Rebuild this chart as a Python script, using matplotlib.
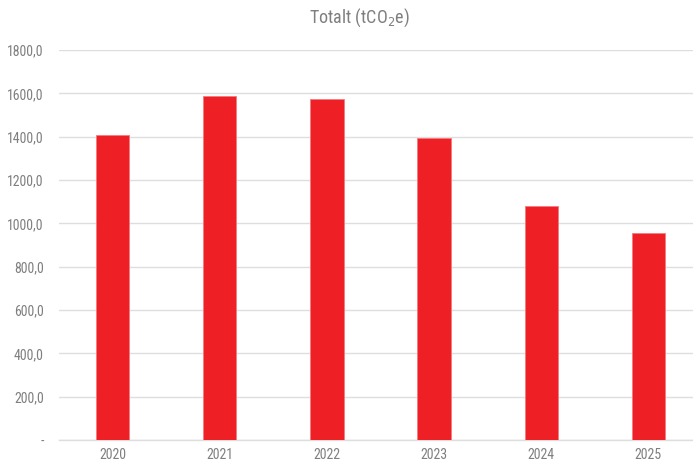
import matplotlib
matplotlib.use("Agg")
import matplotlib.pyplot as plt
from matplotlib import font_manager as fm
from matplotlib.ticker import FuncFormatter

# utslipp per år (tCO2e)
years = ["2020", "2021", "2022", "2023", "2024", "2025"]
totalt = [1406, 1588, 1572, 1394, 1080, 957]

# smal skrift hvis den finnes
names = {f.name for f in fm.fontManager.ttflist}
fam = "Roboto"
for cand in ["Roboto Condensed", "Liberation Sans Narrow", "Open Sans Condensed", "Roboto"]:
    if cand in names:
        fam = cand
        break
plt.rcParams["font.family"] = [fam, "DejaVu Sans"]
plt.rcParams["font.stretch"] = "condensed"

grey = "#7f7f7f"
grid = "#dedede"
red = "#ee1f25"

fig = plt.figure(figsize=(6.93, 4.63), dpi=100)
ax = fig.add_axes([59 / 693, 1 - 440 / 463, (702 - 59) / 693, 390 / 463])

x = range(len(years))
ax.bar(x, totalt, width=0.31, color=red, edgecolor="#f47a7e", linewidth=0.6, zorder=3)

ax.set_ylim(0, 1800)
ax.set_xlim(-0.5, 5.5)
ax.set_yticks(range(0, 1801, 200))
ax.yaxis.set_major_formatter(FuncFormatter(
    lambda v, p: "-" if v == 0 else f"{v:.1f}".replace(".", ",")))
ax.set_xticks(list(x))
ax.set_xticklabels(years)

ax.grid(axis="y", color=grid, linewidth=1.0, zorder=0)
for s in ["top", "right", "left"]:
    ax.spines[s].set_visible(False)
ax.spines["bottom"].set_color(grid)
ax.spines["bottom"].set_linewidth(1.0)

ax.tick_params(axis="both", length=0, colors=grey, labelsize=10)
ax.tick_params(axis="y", pad=11)
ax.tick_params(axis="x", pad=5.5)

fig.text(359 / 693, 1 - 18 / 463, "Totalt (tCO$_2$e)", ha="center", va="center",
         fontsize=13, color=grey)

fig.savefig("out.png", dpi=100)
